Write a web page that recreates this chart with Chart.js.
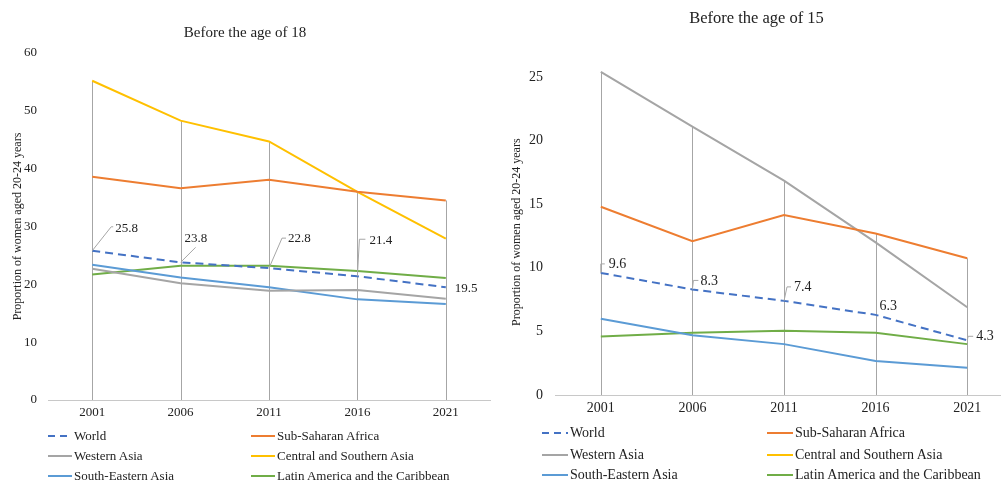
<!DOCTYPE html>
<html lang="en">
<head>
<meta charset="UTF-8">
<script src="https://cdn.jsdelivr.net/npm/chart.js@4.4.1/dist/chart.umd.min.js"></script>
<style>
  body { margin: 0; background: #fff; overflow: hidden; width: 1001px; height: 481px; position: relative; font-family: "Liberation Serif", serif; color: #222; }
  .box { position: absolute; top: 0; }
  .legend { position: absolute; }
  .legend .item { position: absolute; white-space: nowrap; }
  .legend .sw { position: absolute; top: 50%; height: 0; }
</style>
</head>
<body>
  <div class="box" style="left:0;width:500px;height:430px"><canvas id="c18"></canvas></div>
  <div class="box" style="left:500px;width:520px;height:425px"><canvas id="c15"></canvas></div>
  <div class="legend" id="leg18" style="left:0;top:427px;font-size:13px"></div>
  <div class="legend" id="leg15" style="left:500px;top:424px;font-size:14px"></div>

<script>
  // data
  const years = ['2001', '2006', '2011', '2016', '2021'];
  const seriesNames = ['World', 'Sub-Saharan Africa', 'Western Asia', 'Central and Southern Asia', 'South-Eastern Asia', 'Latin America and the Caribbean'];

  // before 18
  const world18 = [25.8, 23.8, 22.8, 21.4, 19.5];
  const ssa18 = [38.6, 36.6, 38.1, 36.0, 34.5];
  const wasia18 = [22.7, 20.2, 18.9, 19.0, 17.5];
  const csasia18 = [55.2, 48.3, 44.7, 36.0, 27.9];
  const seasia18 = [23.4, 21.2, 19.5, 17.4, 16.6];
  const latam18 = [21.7, 23.2, 23.2, 22.3, 21.1];

  // before 15 (Central and Southern Asia is not plotted)
  const world15 = [9.6, 8.3, 7.4, 6.3, 4.3];
  const ssa15 = [14.8, 12.1, 14.15, 12.7, 10.75];
  const wasia15 = [25.4, 21.1, 16.85, 12.0, 6.9];
  const csasia15 = [null, null, null, null, null];
  const seasia15 = [6.0, 4.7, 4.0, 2.67, 2.15];
  const latam15 = [4.6, 4.9, 5.05, 4.9, 4.0];

  const colors = ['#4472C4', '#ED7D31', '#A5A5A5', '#FFC000', '#5B9BD5', '#70AD47'];
  const serif = '"Liberation Serif", "Times New Roman", serif';

  function makeDatasets(values) {
    return values.map((v, i) => ({
      label: seriesNames[i],
      data: v,
      borderColor: colors[i],
      backgroundColor: colors[i],
      borderWidth: 2,
      borderDash: i === 0 ? [8, 5] : [],
      pointRadius: 0,
      tension: 0,
      fill: false
    }));
  }

  // vertical drop lines from the highest series down to zero
  const dropLines = {
    id: 'dropLines',
    beforeDatasetsDraw(chart) {
      const ctx = chart.ctx, x = chart.scales.x, y = chart.scales.y;
      ctx.save();
      ctx.strokeStyle = '#a6a6a6';
      ctx.lineWidth = 1;
      years.forEach((yr, i) => {
        let top = null;
        chart.data.datasets.forEach(ds => {
          const v = ds.data[i];
          if (v != null && (top == null || v > top)) top = v;
        });
        if (top == null) return;
        const px = Math.round(x.getPixelForValue(i)) + 0.5;
        ctx.beginPath();
        ctx.moveTo(px, y.getPixelForValue(top));
        ctx.lineTo(px, y.getPixelForValue(0));
        ctx.stroke();
      });
      ctx.restore();
    }
  };

  // value labels on the World line, with small leader lines
  const worldLabels = {
    id: 'worldLabels',
    afterDatasetsDraw(chart, args, opts) {
      const ctx = chart.ctx;
      const meta = chart.getDatasetMeta(0);
      ctx.save();
      ctx.font = opts.size + 'px ' + serif;
      ctx.fillStyle = '#222';
      ctx.textAlign = 'left';
      ctx.textBaseline = 'middle';
      ctx.strokeStyle = '#a6a6a6';
      ctx.lineWidth = 1;
      meta.data.forEach((pt, i) => {
        const p = opts.pos[i];
        if (p.lead) {
          ctx.beginPath();
          ctx.moveTo(pt.x, pt.y);
          p.lead.forEach(l => ctx.lineTo(pt.x + l[0], pt.y + l[1]));
          ctx.stroke();
        }
        ctx.fillText(chart.data.datasets[0].data[i].toFixed(1), pt.x + p.dx, pt.y + p.dy);
      });
      ctx.restore();
    }
  };

  function makeChart(id, values, o) {
    return new Chart(document.getElementById(id), {
      type: 'line',
      data: { labels: years, datasets: makeDatasets(values) },
      plugins: [dropLines, worldLabels],
      options: {
        responsive: true,
        maintainAspectRatio: false,
        animation: false,
        layout: { padding: { left: 0, right: o.padRight, top: 0, bottom: 0 } },
        plugins: {
          legend: { display: false },
          tooltip: { enabled: false },
          title: {
            display: true,
            text: o.title,
            color: '#222',
            font: { family: serif, size: o.titleSize, weight: 'normal' },
            padding: o.titlePad
          },
          worldLabels: { size: o.font, pos: o.labels }
        },
        scales: {
          x: {
            offset: true,
            grid: { display: false, drawTicks: false },
            border: { display: true, color: '#c8c8c8', width: 1 },
            ticks: { color: '#222', padding: 5, font: { family: serif, size: o.font } },
            afterFit: s => { s.height = o.xHeight; }
          },
          y: {
            min: 0,
            max: o.yMax,
            grid: { display: false, drawTicks: false },
            border: { display: false },
            ticks: { stepSize: o.step, includeBounds: false, color: '#222', padding: o.tickPad, font: { family: serif, size: o.font } },
            title: {
              display: true,
              text: 'Proportion of women aged 20-24 years',
              color: '#222',
              font: { family: serif, size: 12 },
              padding: { top: o.yTitlePad, bottom: 0 }
            },
            afterFit: s => { s.width = o.yWidth; }
          }
        }
      }
    });
  }

  makeChart('c18', [world18, ssa18, wasia18, csasia18, seasia18, latam18], {
    title: 'Before the age of 18', titleSize: 15, titlePad: { top: 24, bottom: 11 },
    yMax: 60, step: 10, font: 13, tickPad: 11, yTitlePad: 11, yWidth: 48, xHeight: 30, padRight: 10,
    labels: [
      { dx: 23, dy: -22, lead: [[19, -24], [21, -24]] },
      { dx: 4, dy: -24, lead: [[15, -15]] },
      { dx: 19, dy: -30, lead: [[13, -30], [17, -30]] },
      { dx: 12, dy: -36, lead: [[2, -37], [8, -37]] },
      { dx: 9, dy: 1, lead: null }
    ]
  });

  makeChart('c15', [world15, ssa15, wasia15, csasia15, seasia15, latam15], {
    title: 'Before the age of 15', titleSize: 16.5, titlePad: { top: 9, bottom: 40.6 },
    yMax: 25.6, step: 5, font: 14, tickPad: 12, yTitlePad: 10, yWidth: 55, xHeight: 30, padRight: 7,
    labels: [
      { dx: 8, dy: -9, lead: [[0, -9], [4, -9]] },
      { dx: 8, dy: -8, lead: [[1, -9], [6, -9]] },
      { dx: 10, dy: -14, lead: [[3, -14], [7, -14]] },
      { dx: 4, dy: -9, lead: null },
      { dx: 9, dy: -4, lead: [[1, -4], [6, -4]] }
    ]
  });

  // two-column legends under each chart
  function buildLegend(id, cols, rowY, swLen) {
    const el = document.getElementById(id);
    seriesNames.forEach((name, i) => {
      const item = document.createElement('div');
      item.className = 'item';
      item.style.left = cols[i % 2] + 'px';
      item.style.top = rowY[Math.floor(i / 2)] + 'px';
      item.style.paddingLeft = (swLen + 2) + 'px';
      item.style.lineHeight = '18px';
      const sw = document.createElement('span');
      sw.className = 'sw';
      sw.style.left = '0';
      sw.style.width = swLen + 'px';
      sw.style.marginTop = '-1px';
      if (i === 0) {
        sw.style.height = '2px';
        sw.style.background = 'repeating-linear-gradient(90deg,' + colors[0] + ' 0 7px, transparent 7px 12px)';
      } else {
        sw.style.borderTop = '2px solid ' + colors[i];
      }
      item.appendChild(sw);
      item.appendChild(document.createTextNode(name));
      el.appendChild(item);
    });
  }
  buildLegend('leg18', [48, 251], [0, 20, 40], 24);
  buildLegend('leg15', [42, 267], [0, 22, 42], 26);
</script>
</body>
</html>
